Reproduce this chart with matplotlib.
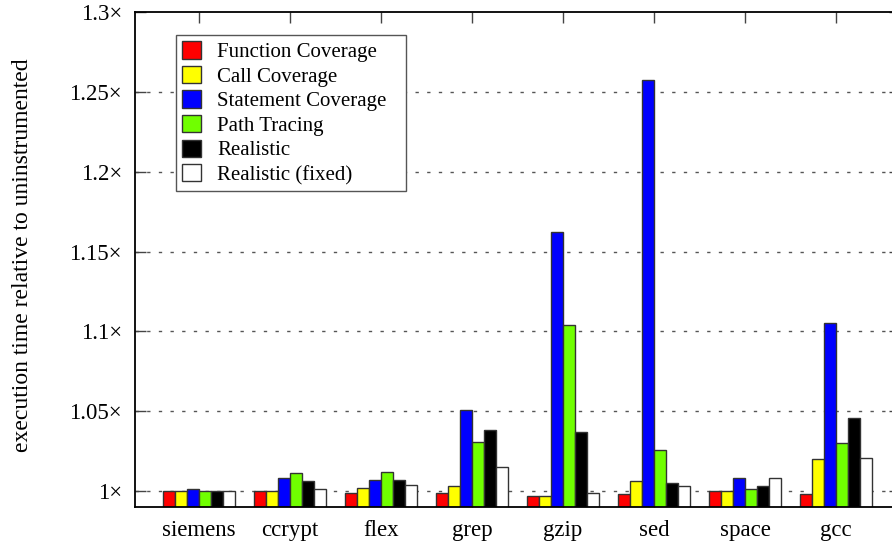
"""Execution-time overhead of coverage instrumentation, relative to uninstrumented runs."""

import matplotlib

matplotlib.use("Agg")
import matplotlib.pyplot as plt
import numpy as np

BENCHMARKS = ["siemens", "ccrypt", "flex", "grep", "gzip", "sed", "space", "gcc"]

FUNCTION_COV = [1.000, 1.000, 0.999, 0.999, 0.997, 0.998, 1.000, 0.998]
CALL_COV = [1.000, 1.000, 1.002, 1.003, 0.997, 1.006, 1.000, 1.020]
STATEMENT_COV = [1.001, 1.008, 1.007, 1.051, 1.162, 1.2575, 1.008, 1.105]
PATH_TRACING = [1.000, 1.011, 1.012, 1.031, 1.104, 1.026, 1.001, 1.030]
REALISTIC = [1.000, 1.006, 1.007, 1.038, 1.037, 1.005, 1.003, 1.046]
REALISTIC_FIXED = [1.000, 1.001, 1.004, 1.015, 0.999, 1.003, 1.008, 1.021]

SERIES = [
    ("Function Coverage", FUNCTION_COV, "#ff0000"),
    ("Call Coverage", CALL_COV, "#ffff00"),
    ("Statement Coverage", STATEMENT_COV, "#0000ff"),
    ("Path Tracing", PATH_TRACING, "#70ff00"),
    ("Realistic", REALISTIC, "#000000"),
    ("Realistic (fixed)", REALISTIC_FIXED, "#ffffff"),
]

Y_TICKS = [1.0, 1.05, 1.1, 1.15, 1.2, 1.25, 1.3]
Y_TICK_LABELS = ["1×", "1.05×", "1.1×", "1.15×", "1.2×", "1.25×", "1.3×"]

plt.rcParams.update(
    {
        "font.family": ["Liberation Serif", "DejaVu Serif"],
        "font.size": 16.5,
    }
)

W, H = 892, 548
fig = plt.figure(figsize=(W / 100, H / 100), dpi=100)
ax = fig.add_axes([135 / W, 1 - 507 / H, 765 / W, 495 / H])

x = np.arange(len(BENCHMARKS))
bar_w = 1 / 7.5
n = len(SERIES)
for i, (label, vals, color) in enumerate(SERIES):
    offs = (i - (n - 1) / 2) * bar_w
    ax.bar(
        x + offs,
        vals,
        width=bar_w,
        color=color,
        edgecolor="#333333",
        linewidth=1.0,
        label=label,
        zorder=2,
    )

ax.set_xlim(-0.703, 7.703)
ax.set_ylim(0.99, 1.3)
ax.set_axisbelow(True)

ax.set_yticks(Y_TICKS, Y_TICK_LABELS)
ax.set_xticks(x, BENCHMARKS)
ax.tick_params(
    axis="both",
    direction="in",
    length=8,
    width=1.0,
    color="#444444",
    top=True,
    right=True,
    labelsize=16.5,
)
ax.tick_params(axis="y", pad=9.5)
ax.tick_params(axis="x", pad=9.5)

for yv in Y_TICKS[:-1]:
    ax.axhline(yv, color="#555555", linewidth=1.0, linestyle=(0, (2.4, 6)), zorder=0.5)

for s in ax.spines.values():
    s.set_color("#000000")
    s.set_linewidth(1.3)
    s.set_zorder(3)

ax.set_ylabel("execution time relative to uninstrumented", fontsize=17)
ax.yaxis.set_label_coords(-0.133, 0.509)

# legend box spans x 176..406 px and y 35..190 px of the figure
leg = ax.legend(
    loc="upper left",
    bbox_to_anchor=(0.0536, 0.6404, 0.3006, 0.3131),
    mode="expand",
    borderaxespad=0,
    fontsize=15,
    frameon=True,
    fancybox=False,
    framealpha=1,
    edgecolor="#555555",
    handlelength=0.92,
    handleheight=0.9,
    handletextpad=0.75,
    labelspacing=0.18,
    borderpad=0.3,
)
leg.get_frame().set_linewidth(1.0)
leg.set_zorder(4)

fig.savefig("out.png", dpi=100)
